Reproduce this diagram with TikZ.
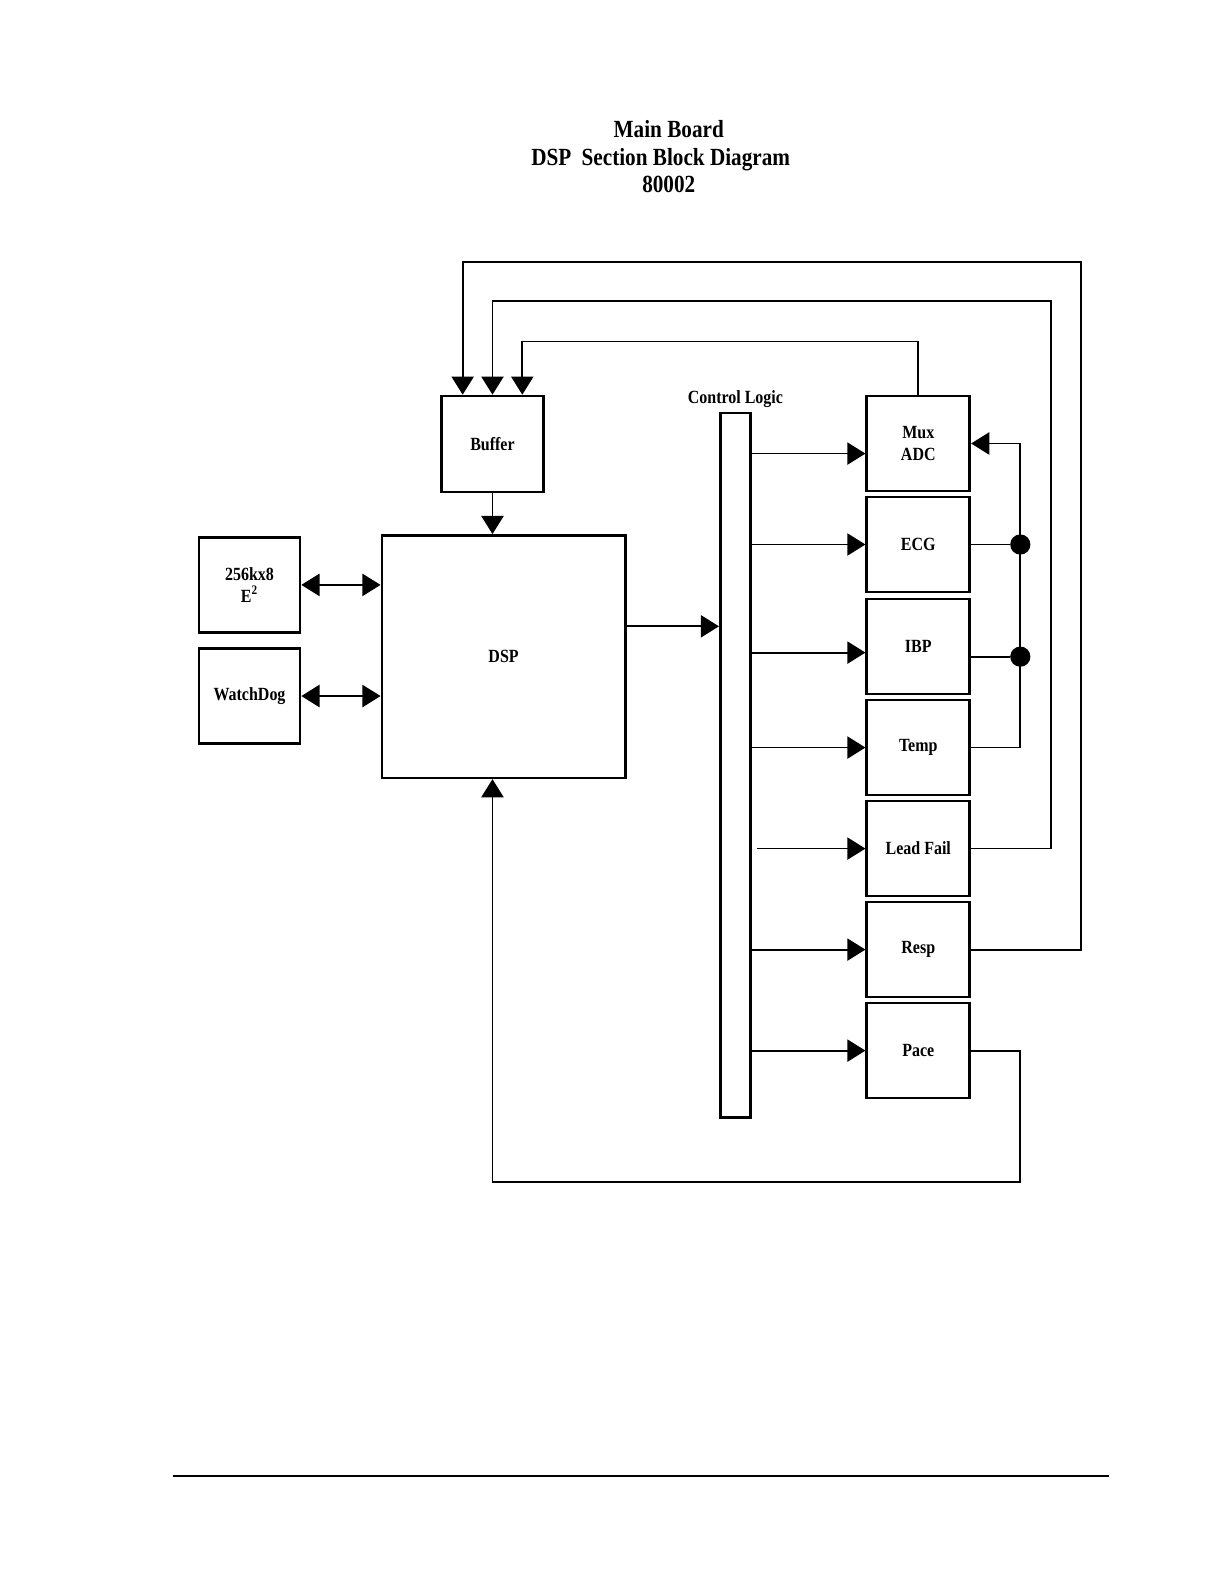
\documentclass[tikz,border=0pt]{standalone}
\usepackage{fontspec}
\newfontfamily\tnr{Liberation Serif}[FakeStretch=0.86]
\usetikzlibrary{arrows.meta,calc}
\tikzset{
  blk/.style={draw, line width=1.3pt, inner sep=0pt, font=\tnr\bfseries\fontsize{9.2}{11}\selectfont, align=center},
  rbox/.style={blk, minimum width=51pt, minimum height=47pt},
  wire/.style={line width=0.9pt},
  arr/.style={wire, -{Triangle[length=9pt,width=11pt]}},
  darr/.style={wire, {Triangle[length=9pt,width=11pt]}-{Triangle[length=9pt,width=11pt]}},
  jdot/.style={circle, fill=black, inner sep=0pt, minimum size=10pt}
}
\begin{document}
\begin{tikzpicture}[x=0.5pt,y=-0.5pt]
\useasboundingbox (0,0) rectangle (1212,1568);
% title
\node[font=\tnr\bfseries\fontsize{12.2}{13.5}\selectfont, align=center] (title) at (662,155) {Main Board\\\makebox[0pt]{\hspace*{-8pt}DSP\hspace{0.42em}Section Block Diagram}\\80002};
% blocks
\node[blk, minimum width=50.5pt, minimum height=47.5pt] (buf) at (487.5,439.5) {Buffer};
\node[blk, minimum width=120.5pt, minimum height=120pt] (dsp) at (498.5,650) {DSP};
\node[blk, minimum width=50pt, minimum height=47pt] (eep) at (247,579) {256kx8\\[0pt]E\textsuperscript{2}};
\node[blk, minimum width=50pt, minimum height=47pt] (wd) at (247,689) {WatchDog};
\node[draw, line width=1.3pt, minimum width=15pt, minimum height=348.5pt, inner sep=0pt] (bar) at (728,757.5) {};
\node[font=\tnr\bfseries\fontsize{9.2}{11}\selectfont, anchor=south, inner sep=2pt] (cl) at ([yshift=0pt]bar.north) {Control Logic};
\node[rbox] (mux) at (909,439) {Mux\\ADC};
\node[rbox] (ecg) at (909,539) {ECG};
\node[rbox] (ibp) at (909,640) {IBP};
\node[rbox] (temp) at (909,740) {Temp};
\node[rbox] (lf) at (909,840) {Lead Fail};
\node[rbox] (resp) at (909,940) {Resp};
\node[rbox] (pace) at (909,1040) {Pace};
% helper coordinates
\coordinate (r1) at (1070,259);
\coordinate (r2) at (1040,298);
\coordinate (r3) at (909,338);
\coordinate (bus) at (1010,439);
\coordinate (p1) at (1010,1170);
\coordinate (mA) at ([yshift=-5pt]mux.west);
\coordinate (iA) at ([yshift=-3pt]ibp.west);
\coordinate (iB) at ([yshift=-5pt]ibp.east);
\coordinate (dO) at ([yshift=15pt]dsp.east);
% buffer inputs
\draw[arr] (resp.east) -| (r1) -| ([xshift=-14.75pt]buf.north);
\draw[arr] (lf.east) -| (r2) -| (buf.north);
\draw[arr] (mux.north) |- (r3) -| ([xshift=14.75pt]buf.north);
% buffer -> dsp
\draw[arr] (buf.south) -- (buf.south |- dsp.north);
% memory / watchdog
\draw[darr] (eep.east) -- (eep.east -| dsp.west);
\draw[darr] (wd.east) -- (wd.east -| dsp.west);
% dsp -> control logic
\draw[arr] (dO) -- (dO -| bar.west);
% control logic -> blocks
\draw[arr] (bar.east |- mA) -- (mA);
\draw[arr] (bar.east |- ecg.west) -- (ecg.west);
\draw[arr] (bar.east |- iA) -- (iA);
\draw[arr] (bar.east |- temp.west) -- (temp.west);
\draw[arr] ([xshift=2.5pt]bar.east |- lf.west) -- (lf.west);
\draw[arr] (bar.east |- resp.west) -- (resp.west);
\draw[arr] (bar.east |- pace.west) -- (pace.west);
% right bus into mux
\draw[arr] (temp.east) -| (bus) -- (mux.east);
\node[jdot] (d1) at (ecg.east -| bus) {};
\node[jdot] (d2) at (iB -| bus) {};
\draw[wire] (ecg.east) -- (d1);
\draw[wire] (iB) -- (d2);
% pace back to dsp
\draw[arr] (pace.east) -| (p1) -| (buf.south |- dsp.south);
% bottom rule
\draw[line width=1pt] (171,1461) -- (1098,1461);
\end{tikzpicture}
\end{document}
